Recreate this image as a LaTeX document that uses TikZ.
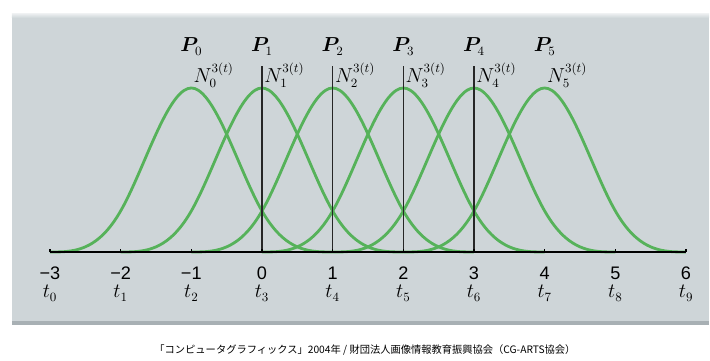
\documentclass[tikz,border=0pt]{standalone}
\usepackage{amsmath,bm}
\usepackage{fontspec}
\setsansfont{Liberation Sans}
\newfontfamily\cjk{Noto Sans CJK JP}
\usepackage{xcolor}
\usetikzlibrary{positioning}

\definecolor{panelgray}{RGB}{206,213,216}
\definecolor{paneledge}{RGB}{168,176,180}
\definecolor{splinegreen}{RGB}{86,178,90}

% uniform cubic B-spline basis, centred at 0, support [-2,2]
\pgfmathdeclarefunction{bbasis}{1}{%
  \pgfmathparse{abs(#1)<1 ? 2/3-(#1)*(#1)+abs(#1)*abs(#1)*abs(#1)/2 : (2-abs(#1))*(2-abs(#1))*(2-abs(#1))/6}%
}

\begin{document}
\begin{tikzpicture}[
		x=1.767cm,y=6.15cm,
		bspline/.style={splinegreen,line width=2pt},
		knotline/.style={black!85,line width=0.8pt},
		axisline/.style={black,line width=1.2pt},
		numlabel/.style={font=\sffamily\fontsize{12.9}{15}\selectfont,inner sep=0pt,anchor=base},
		tlabel/.style={font=\fontsize{13.5}{16}\selectfont,inner sep=0pt,anchor=base},
		plabel/.style={font=\fontsize{13.5}{16}\selectfont,inner sep=0pt,anchor=base},
		nlabel/.style={font=\fontsize{13.5}{16}\selectfont,inner sep=0pt,anchor=base west},
		captext/.style={font=\cjk\fontsize{7.3}{9}\selectfont,inner sep=0pt}
		]
		
		\useasboundingbox (-3.707,-0.4431) rectangle (6.339,1.0244);
		
		% panel
		\fill[panelgray] (-3.538,-0.2967) rectangle (6.325,0.9715);
		\shade[top color=white!70!panelgray,bottom color=panelgray] (-3.538,0.9515) rectangle (6.325,0.9715);
		\fill[paneledge] (-3.538,-0.2967) rectangle (6.325,-0.2807);
		
		% basis functions
		\foreach \i in {0,...,5} {
			\pgfmathtruncatemacro\c{\i-1}
			\draw[bspline] plot[domain=-2:2,samples=81,smooth] ({\c+\x},{bbasis(\x)});
		}
		
		% knot lines
		\foreach \v in {0,...,3}
			\draw[knotline] (\v,0) -- (\v,0.756);
		
		% axis
		\draw[axisline] (-3,0) -- (6,0);
		\foreach \v in {-3,...,6}
			\draw[axisline,line width=0.8pt] (\v,0) -- (\v,0.014);
		
		% axis labels
		\foreach \v [count=\k from 0] in {-3,...,6} {
			\node[numlabel] (n\k) at (\v,-0.110) {\ifnum\v<0 −\number\numexpr-\v\relax\else\v\fi};
			\node[tlabel] (t\k) at (\v,-0.187) {$t_{\k}$};
		}
		
		% control points and basis names
		\foreach \i in {0,...,5} {
			\pgfmathtruncatemacro\c{\i-1}
			\node[plabel] (P\i) at (\c,0.813) {$\bm{P}_{\i}$};
			\node[nlabel] (N\i) at (\c+0.03,0.687) {$N_{\i}^{3(t)}$};
		}
		
		\node[captext] (cap) at (1.457,-0.398) {「コンピュータグラフィックス」2004年 / 財団法人画像情報教育振興協会（CG-ARTS協会）};
		
	\end{tikzpicture}
\end{document}
